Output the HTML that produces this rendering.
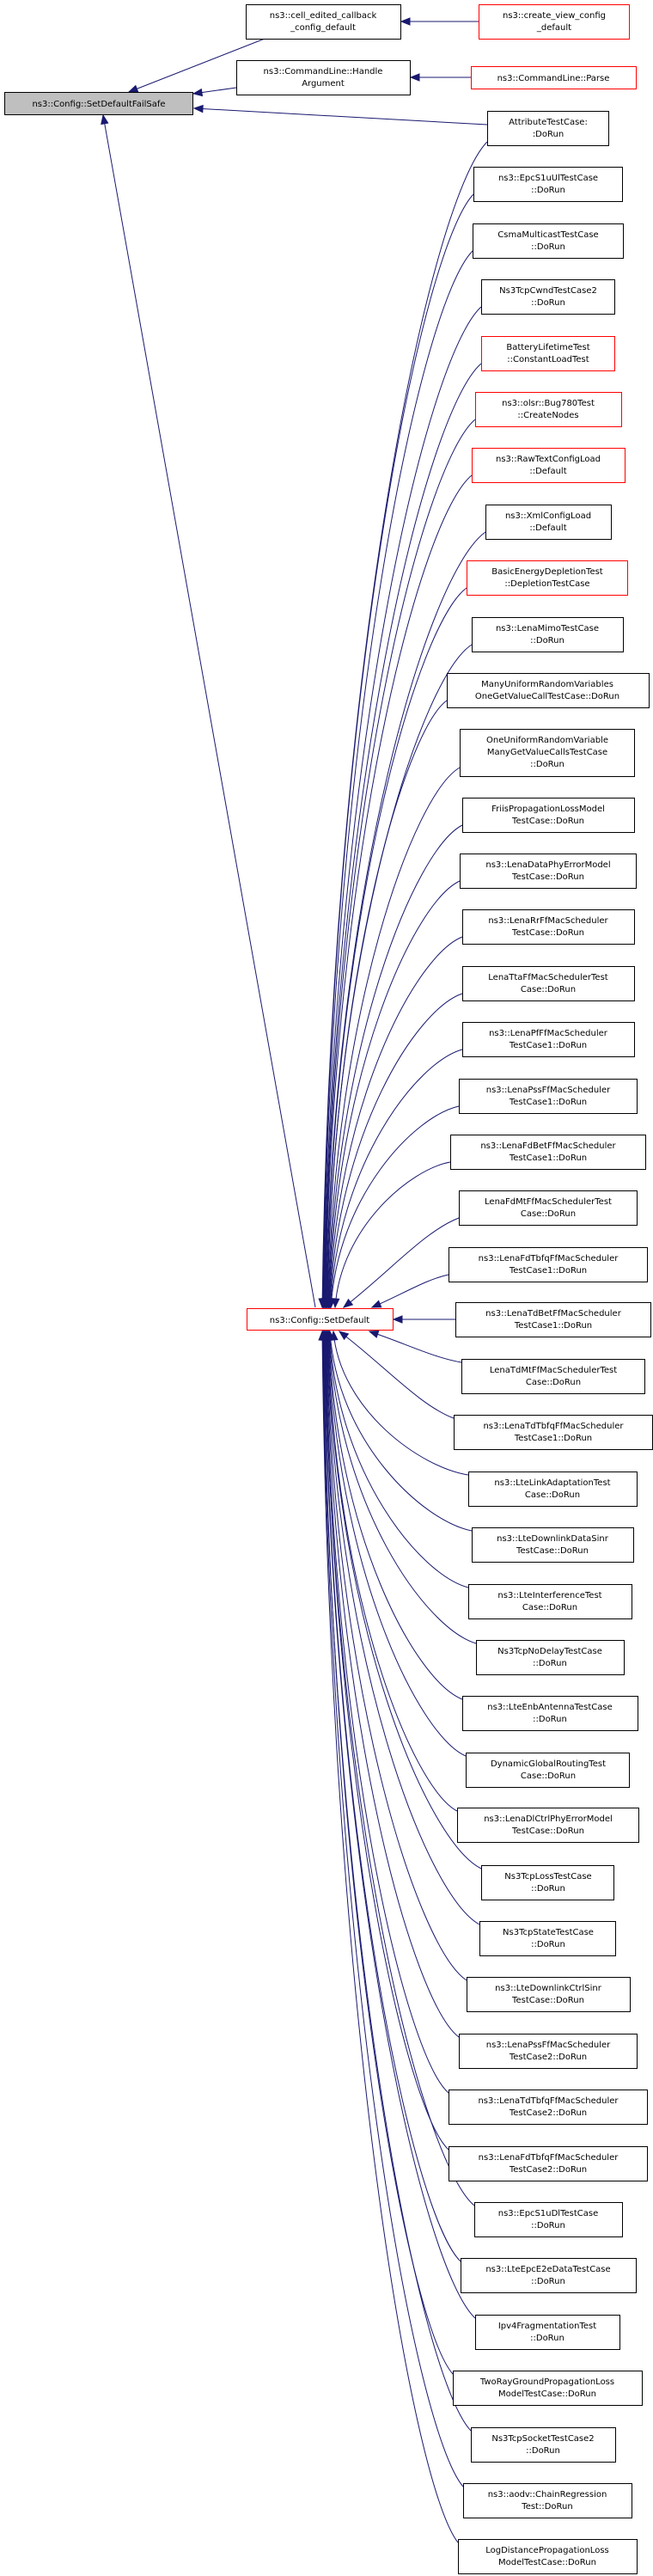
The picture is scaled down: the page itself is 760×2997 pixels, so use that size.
<!DOCTYPE html>
<html><head><meta charset="utf-8">
<style>
html,body{margin:0;padding:0;background:#fff;}
svg{display:block;}
text{font-family:"DejaVu Sans","Liberation Sans",sans-serif;font-size:10px;fill:#000;text-anchor:middle;}
.n rect{fill:#fff;stroke:#000;stroke-width:1;}
.r rect{fill:#fff;stroke:#ff0000;stroke-width:1;}
.e{fill:none;stroke:#191970;stroke-width:1;}
.a{fill:#191970;stroke:#191970;}
</style></head>
<body>
<svg id="s" width="760" height="2997" viewBox="0 0 760 2997" xmlns="http://www.w3.org/2000/svg">
<g id="edges"></g>
<!-- top nodes -->
<g class="n"><rect x="5.5" y="107.5" width="219" height="26" style="fill:#bfbfbf"/><text x="115" y="124">ns3::Config::SetDefaultFailSafe</text></g>
<g class="n"><rect x="286.5" y="5.5" width="180" height="40"/><text x="376" y="21">ns3::cell_edited_callback</text><text x="376" y="35">_config_default</text></g>
<g class="r"><rect x="557.5" y="5.5" width="175" height="40"/><text x="645" y="21">ns3::create_view_config</text><text x="645" y="35">_default</text></g>
<g class="n"><rect x="275.5" y="70.5" width="202" height="40"/><text x="376" y="86">ns3::CommandLine::Handle</text><text x="376" y="100">Argument</text></g>
<g class="r"><rect x="548.5" y="77.5" width="192" height="26"/><text x="644" y="94">ns3::CommandLine::Parse</text></g>
<g class="r"><rect x="287.5" y="1522.5" width="170" height="25"/><text x="372" y="1539">ns3::Config::SetDefault</text></g>

<g class="n"><rect x="567.5" y="129.5" width="141" height="40"/><text x="638" y="145">AttributeTestCase:</text><text x="638" y="159">:DoRun</text></g>
<g class="n"><rect x="551.5" y="194.5" width="173" height="40"/><text x="638" y="210">ns3::EpcS1uUlTestCase</text><text x="638" y="224">::DoRun</text></g>
<g class="n"><rect x="550.5" y="260.5" width="175" height="40"/><text x="638" y="276">CsmaMulticastTestCase</text><text x="638" y="290">::DoRun</text></g>
<g class="n"><rect x="560.5" y="325.5" width="155" height="40"/><text x="638" y="341">Ns3TcpCwndTestCase2</text><text x="638" y="355">::DoRun</text></g>
<g class="r"><rect x="560.5" y="391.5" width="155" height="40"/><text x="638" y="407">BatteryLifetimeTest</text><text x="638" y="421">::ConstantLoadTest</text></g>
<g class="r"><rect x="553.5" y="456.5" width="170" height="40"/><text x="638" y="472">ns3::olsr::Bug780Test</text><text x="638" y="486">::CreateNodes</text></g>
<g class="r"><rect x="549.5" y="521.5" width="178" height="40"/><text x="638" y="537">ns3::RawTextConfigLoad</text><text x="638" y="551">::Default</text></g>
<g class="n"><rect x="565.5" y="587.5" width="146" height="40"/><text x="638" y="603">ns3::XmlConfigLoad</text><text x="638" y="617">::Default</text></g>
<g class="r"><rect x="543.5" y="652.5" width="187" height="40"/><text x="637" y="668">BasicEnergyDepletionTest</text><text x="637" y="682">::DepletionTestCase</text></g>
<g class="n"><rect x="549.5" y="718.5" width="176" height="40"/><text x="637" y="734">ns3::LenaMimoTestCase</text><text x="637" y="748">::DoRun</text></g>
<g class="n"><rect x="520.5" y="783.5" width="235" height="40"/><text x="637" y="799">ManyUniformRandomVariables</text><text x="637" y="813">OneGetValueCallTestCase::DoRun</text></g>
<g class="n"><rect x="535.5" y="848.5" width="203" height="55"/><text x="637" y="864">OneUniformRandomVariable</text><text x="637" y="878">ManyGetValueCallsTestCase</text><text x="637" y="892">::DoRun</text></g>
<g class="n"><rect x="538.5" y="928.5" width="200" height="40"/><text x="638" y="944">FriisPropagationLossModel</text><text x="638" y="958">TestCase::DoRun</text></g>
<g class="n"><rect x="535.5" y="993.5" width="205" height="40"/><text x="638" y="1009">ns3::LenaDataPhyErrorModel</text><text x="638" y="1023">TestCase::DoRun</text></g>
<g class="n"><rect x="538.5" y="1058.5" width="200" height="40"/><text x="638" y="1074">ns3::LenaRrFfMacScheduler</text><text x="638" y="1088">TestCase::DoRun</text></g>
<g class="n"><rect x="538.5" y="1124.5" width="200" height="40"/><text x="638" y="1140">LenaTtaFfMacSchedulerTest</text><text x="638" y="1154">Case::DoRun</text></g>
<g class="n"><rect x="538.5" y="1189.5" width="200" height="40"/><text x="638" y="1205">ns3::LenaPfFfMacScheduler</text><text x="638" y="1219">TestCase1::DoRun</text></g>
<g class="n"><rect x="534.5" y="1255.5" width="207" height="40"/><text x="638" y="1271">ns3::LenaPssFfMacScheduler</text><text x="638" y="1285">TestCase1::DoRun</text></g>
<g class="n"><rect x="524.5" y="1320.5" width="227" height="40"/><text x="638" y="1336">ns3::LenaFdBetFfMacScheduler</text><text x="638" y="1350">TestCase1::DoRun</text></g>
<g class="n"><rect x="534.5" y="1385.5" width="207" height="40"/><text x="638" y="1401">LenaFdMtFfMacSchedulerTest</text><text x="638" y="1415">Case::DoRun</text></g>
<g class="n"><rect x="522.5" y="1451.5" width="231" height="40"/><text x="638" y="1467">ns3::LenaFdTbfqFfMacScheduler</text><text x="638" y="1481">TestCase1::DoRun</text></g>
<g class="n"><rect x="530.5" y="1515.5" width="227" height="40"/><text x="644" y="1531">ns3::LenaTdBetFfMacScheduler</text><text x="644" y="1545">TestCase1::DoRun</text></g>
<g class="n"><rect x="537.5" y="1581.5" width="213" height="40"/><text x="644" y="1597">LenaTdMtFfMacSchedulerTest</text><text x="644" y="1611">Case::DoRun</text></g>
<g class="n"><rect x="528.5" y="1646.5" width="231" height="40"/><text x="644" y="1662">ns3::LenaTdTbfqFfMacScheduler</text><text x="644" y="1676">TestCase1::DoRun</text></g>
<g class="n"><rect x="545.5" y="1712.5" width="196" height="40"/><text x="643" y="1728">ns3::LteLinkAdaptationTest</text><text x="643" y="1742">Case::DoRun</text></g>
<g class="n"><rect x="549.5" y="1777.5" width="188" height="40"/><text x="643" y="1793">ns3::LteDownlinkDataSinr</text><text x="643" y="1807">TestCase::DoRun</text></g>
<g class="n"><rect x="545.5" y="1843.5" width="190" height="40"/><text x="640" y="1859">ns3::LteInterferenceTest</text><text x="640" y="1873">Case::DoRun</text></g>
<g class="n"><rect x="554.5" y="1908.5" width="172" height="40"/><text x="640" y="1924">Ns3TcpNoDelayTestCase</text><text x="640" y="1938">::DoRun</text></g>
<g class="n"><rect x="538.5" y="1973.5" width="204" height="40"/><text x="640" y="1989">ns3::LteEnbAntennaTestCase</text><text x="640" y="2003">::DoRun</text></g>
<g class="n"><rect x="542.5" y="2039.5" width="190" height="40"/><text x="638" y="2055">DynamicGlobalRoutingTest</text><text x="638" y="2069">Case::DoRun</text></g>
<g class="n"><rect x="532.5" y="2103.5" width="211" height="40"/><text x="638" y="2119">ns3::LenaDlCtrlPhyErrorModel</text><text x="638" y="2133">TestCase::DoRun</text></g>
<g class="n"><rect x="560.5" y="2170.5" width="154" height="40"/><text x="638" y="2186">Ns3TcpLossTestCase</text><text x="638" y="2200">::DoRun</text></g>
<g class="n"><rect x="558.5" y="2235.5" width="158" height="40"/><text x="638" y="2251">Ns3TcpStateTestCase</text><text x="638" y="2265">::DoRun</text></g>
<g class="n"><rect x="543.5" y="2300.5" width="190" height="40"/><text x="638" y="2316">ns3::LteDownlinkCtrlSinr</text><text x="638" y="2330">TestCase::DoRun</text></g>
<g class="n"><rect x="534.5" y="2366.5" width="207" height="40"/><text x="638" y="2382">ns3::LenaPssFfMacScheduler</text><text x="638" y="2396">TestCase2::DoRun</text></g>
<g class="n"><rect x="522.5" y="2431.5" width="231" height="40"/><text x="638" y="2447">ns3::LenaTdTbfqFfMacScheduler</text><text x="638" y="2461">TestCase2::DoRun</text></g>
<g class="n"><rect x="522.5" y="2497.5" width="231" height="40"/><text x="638" y="2513">ns3::LenaFdTbfqFfMacScheduler</text><text x="638" y="2527">TestCase2::DoRun</text></g>
<g class="n"><rect x="552.5" y="2562.5" width="172" height="40"/><text x="638" y="2578">ns3::EpcS1uDlTestCase</text><text x="638" y="2592">::DoRun</text></g>
<g class="n"><rect x="536.5" y="2627.5" width="204" height="40"/><text x="638" y="2643">ns3::LteEpcE2eDataTestCase</text><text x="638" y="2657">::DoRun</text></g>
<g class="n"><rect x="553.5" y="2693.5" width="168" height="40"/><text x="637" y="2709">Ipv4FragmentationTest</text><text x="637" y="2723">::DoRun</text></g>
<g class="n"><rect x="527.5" y="2758.5" width="220" height="40"/><text x="637" y="2774">TwoRayGroundPropagationLoss</text><text x="637" y="2788">ModelTestCase::DoRun</text></g>
<g class="n"><rect x="548.5" y="2824.5" width="168" height="40"/><text x="632" y="2840">Ns3TcpSocketTestCase2</text><text x="632" y="2854">::DoRun</text></g>
<g class="n"><rect x="539.5" y="2889.5" width="196" height="40"/><text x="637" y="2905">ns3::aodv::ChainRegression</text><text x="637" y="2919">Test::DoRun</text></g>
<g class="n"><rect x="533.5" y="2954.5" width="208" height="40"/><text x="637" y="2970">LogDistancePropagationLoss</text><text x="637" y="2984">ModelTestCase::DoRun</text></g>
</svg>
<script>
(function(){
var g=document.getElementById('edges'),NS='http://www.w3.org/2000/svg';
function path(d){var p=document.createElementNS(NS,'path');p.setAttribute('d',d);p.setAttribute('class','e');g.appendChild(p);}
function arrow(x,y,fx,fy){var dx=x-fx,dy=y-fy,l=Math.sqrt(dx*dx+dy*dy)||1;dx/=l;dy/=l;var L=10,W=4;
 var bx=x-dx*L,by=y-dy*L;var p=document.createElementNS(NS,'polygon');
 p.setAttribute('points',x+','+y+' '+(bx-dy*W)+','+(by+dx*W)+' '+(bx+dy*W)+','+(by-dx*W));p.setAttribute('class','a');g.appendChild(p);}
function line(x1,y1,x2,y2){path('M'+x1+','+y1+' L'+(x2+(x1-x2)*0)+','+y2);arrow(x2,y2,x1,y1);}
// top edges
line(308,45,150,107);
line(275,102,225,109);
line(567,145,226,126);
line(557,25,467,25);
line(548,90,478,90);
line(367,1521,120,134);
// right-column nodes: [left x, top y]
var N=[[567,129],[551,194],[550,260],[560,325],[560,391],[553,456],[549,521],[565,587],[543,652],[549,718],[520,783],[535,848],[538,928],[535,993],[538,1058],[538,1124],[538,1189],[534,1255],[524,1320],[534,1385],[522,1451],[530,1515],[537,1581],[528,1646],[545,1712],[549,1777],[545,1843],[554,1908],[538,1973],[542,2039],[532,2103],[560,2170],[558,2235],[543,2300],[534,2366],[522,2431],[522,2497],[552,2562],[536,2627],[553,2693],[527,2758],[548,2824],[539,2889],[533,2954]];
for(var i=0;i<N.length;i++){
 var xl=N[i][0],y=N[i][1],tx,ty,sx=xl,sy;
 if(i==21){path('M'+xl+','+(y+20)+' L458,1535');arrow(458,1535,xl,1535);continue;}
 if(i<21){
  ty=1521;sy=(i==11?y+45:y+32);
  tx=i==20?433:i==19?400:i==18?390:375+i*0.6;
  if(i==0)sy=y+36;
  var dx=sx-tx,dy=ty-sy;
  var c1x=sx-0.35*dx,c1y=sy+0.05*dy,c2x=tx+0.05*dx,c2y=ty-0.55*dy;
  if(i>=19){c1x=sx-0.3*dx;c1y=sy+0.15*dy;c2x=tx+0.4*dx;c2y=ty-0.4*dy;}
 } else {
  ty=1549;sy=y+4;
  tx=i==22?430:i==23?395:i==24?388:384-(i-25)*0.5;
  var dx=sx-tx,dy=sy-ty;
  var c1x=sx-0.35*dx,c1y=sy-0.05*dy,c2x=tx+0.05*dx,c2y=ty+0.55*dy;
  if(i<=23){c1x=sx-0.3*dx;c1y=sy-0.15*dy;c2x=tx+0.4*dx;c2y=ty+0.4*dy;}
 }
 path('M'+sx+','+sy+' C'+c1x+','+c1y+' '+c2x+','+c2y+' '+tx+','+ty);
 arrow(tx,ty,c2x,c2y);
}
})();
</script>
</body></html>
